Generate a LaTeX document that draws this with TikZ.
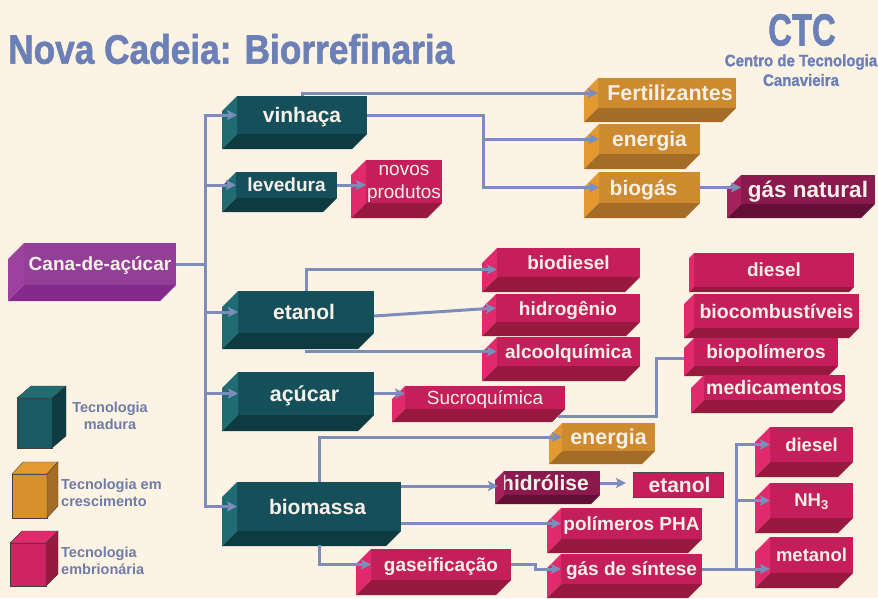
\documentclass[tikz,border=0pt]{standalone}
\usepackage{fontspec}
\setmainfont{Liberation Sans}
\newfontfamily\headfont[BoldFeatures={FakeBold=1.5}]{Liberation Sans}
\usetikzlibrary{arrows.meta}

\definecolor{paper}{HTML}{FDF3E4}
\definecolor{flowline}{HTML}{7C8DBB}
\definecolor{titleblue}{HTML}{6A80B6}
\definecolor{legendblue}{HTML}{6F7CA8}
\definecolor{labelwhite}{HTML}{F6F0E8}
\definecolor{tealface}{HTML}{15505A}
\definecolor{tealleft}{HTML}{1F6C72}
\definecolor{teallow}{HTML}{0D3B41}
\definecolor{redface}{HTML}{C41F5A}
\definecolor{redleft}{HTML}{E12A6B}
\definecolor{redlow}{HTML}{97193F}
\definecolor{orangeface}{HTML}{CE8A2E}
\definecolor{orangeleft}{HTML}{E2992F}
\definecolor{orangelow}{HTML}{A56C28}
\definecolor{plumface}{HTML}{8A1A4E}
\definecolor{plumleft}{HTML}{A4215C}
\definecolor{plumlow}{HTML}{640F38}
\definecolor{purpleface}{HTML}{943F97}
\definecolor{purpleleft}{HTML}{9C429E}
\definecolor{purplelow}{HTML}{842A8C}

\tikzset{
  fs/.style={font=\fontsize{#1}{#1}\selectfont\bfseries},
  hs/.style={font=\fontsize{#1}{#1}\headfont\bfseries, text=titleblue, inner sep=0pt},
  face/.style={inner sep=0pt, outer sep=0pt, text=labelwhite, align=center, text depth=0pt, fs=19},
  flow/.style={draw=flowline, line width=3pt, -{Stealth[length=10pt,width=10pt,inset=2pt]}},
  link/.style={draw=flowline, line width=3pt},
  legend/.style={text=legendblue, fs=14.5, align=left, inner sep=0pt}
}

% optional node style, name, x1, y1, x2, y2, depth, colour, text
\newcommand{\bevelbox}[9][]{%
  \node[face, fill=#8face, minimum width={(#5-#3-#7)*1pt}, minimum height={(#6-#4-#7)*1pt}, #1]
    (#2) at ({(#3+#7+#5)/2},{(#4+#6-#7)/2}) {#9};
  \fill[#8left] (#2.north west) -- (#3,{#4+#7}) -- (#3,#6) -- (#2.south west) -- cycle;
  \fill[#8low] (#2.south west) -- (#3,#6) -- ({#5-#7},#6) -- (#2.south east) -- cycle;
}

% x, y, width, height, depth, rise, colour
\newcommand{\legendcube}[7]{%
  \filldraw[fill=#7face!60!#7left, draw=black!75] (#1,#2) rectangle ({#1+#3},{#2+#4});
  \filldraw[fill=#7left, draw=black!75] (#1,#2) -- ({#1+#5},{#2-#6}) -- ({#1+#3+#5},{#2-#6}) -- ({#1+#3},#2) -- cycle;
  \filldraw[fill=#7low, draw=black!75] ({#1+#3},#2) -- ({#1+#3+#5},{#2-#6}) -- ({#1+#3+#5},{#2+#4-#6}) -- ({#1+#3},{#2+#4}) -- cycle;
}

\begin{document}
\begin{tikzpicture}[x=1pt,y=-1pt]
    \fill[paper] (0,0) rectangle (878,598);
    \useasboundingbox (0,0) rectangle (878,598);

    % Title
    \node[hs=41, anchor=west, xscale=.86] (title) at (8,49) {Nova Cadeia: Biorrefinaria};
    \node[hs=45, xscale=.73] (ctc) at (802,30) {CTC};
    \node[hs=16.5, xscale=.91] (centro) at (801,62) {Centro de Tecnologia};
    \node[hs=16.5, xscale=.91] (canavieira) at (801,80) {Canavieira};

    % Boxes
    \bevelbox[fs=19]{cana}{8}{243}{176}{301}{16}{purple}{Cana-de-açúcar}
    \bevelbox[fs=21]{vinhaca}{222}{96}{367}{149}{15}{teal}{vinhaça}
    \bevelbox[fs=19]{levedura}{222}{172}{337}{212}{14}{teal}{levedura}
    \bevelbox[font=\fontsize{19}{23}\selectfont, text depth=-6pt]{novos}{351}{160}{442}{218}{15}{red}{novos\\produtos}
    \bevelbox[fs=21.5]{fertil}{584}{78}{736}{122}{14}{orange}{\kern6pt Fertilizantes}
    \bevelbox[fs=21]{energiaA}{584}{124}{700}{169}{15}{orange}{energia}
    \bevelbox[fs=21]{biogas}{584}{172}{700}{218}{15}{orange}{\kern-12pt biogás}
    \bevelbox[fs=22.5]{gasnat}{727}{175}{875}{218}{14}{plum}{gás natural}

    \bevelbox[fs=21]{etanol}{222}{291}{374}{349}{16}{teal}{\kern-4pt etanol}
    \bevelbox[fs=19]{biodiesel}{482}{248}{640}{292}{15}{red}{biodiesel}
    \bevelbox[fs=19]{hidrogenio}{482}{294}{640}{336}{14}{red}{hidrogênio}
    \bevelbox[fs=19]{alcool}{482}{337}{640}{381}{15}{red}{alcoolquímica}
    \bevelbox[fs=19]{dieselA}{689}{253}{854}{292}{5}{red}{diesel}
    \bevelbox[fs=19.5]{biocomb}{684}{294}{859}{338}{10}{red}{biocombustíveis}
    \bevelbox[fs=19]{biopol}{684}{338}{838}{376}{10}{red}{biopolímeros}
    \bevelbox[fs=19.5]{medic}{691}{375}{845}{413}{13}{red}{medicamentos}
    \bevelbox[fs=21.5]{acucar}{222}{372}{374}{431}{16}{teal}{\kern-3pt açúcar}
    \bevelbox[font=\fontsize{19}{19}\selectfont]{sucro}{392}{386}{565}{422}{13}{red}{Sucroquímica}

    \bevelbox[fs=21]{biomassa}{222}{482}{401}{546}{15}{teal}{\kern-3pt biomassa}
    \bevelbox[fs=21.5]{energiaB}{549}{423}{655}{464}{13}{orange}{energia}
    \bevelbox[fs=21]{hidrolise}{495}{471}{600}{504}{9}{plum}{\kern-14pt hidrólise}
    \node[face, fs=21, fill=redface, draw=black!70, minimum width=90pt, minimum height=25pt] (etanolB) at (678,485) {\kern3pt etanol};
    \bevelbox[fs=19]{pha}{547}{508}{702}{553}{14}{red}{polímeros PHA}
    \bevelbox[fs=19]{sintese}{547}{554}{702}{598}{14}{red}{gás de síntese}
    \bevelbox[fs=19]{gaseif}{356}{549}{511}{595}{15}{red}{gaseificação}
    \bevelbox[fs=18.5]{dieselB}{755}{427}{853}{477}{15}{red}{diesel}
    \bevelbox[fs=18.5]{nh}{755}{483}{853}{533}{15}{red}{NH$_{\mathbf{3}}$}
    \bevelbox[fs=18.5]{metanol}{755}{537}{853}{588}{15}{red}{metanol}

    % Legend
    \legendcube{17}{398}{35}{50}{14}{12}{teal}
    \legendcube{12}{474}{35}{44}{11}{12}{orange}
    \legendcube{10}{543}{36}{43}{12}{12}{red}
    \node[legend, align=center] (madura) at (110,416) {Tecnologia\\[3pt]madura};
    \node[legend, anchor=west] (crescimento) at (61,493) {Tecnologia em\\[3pt]crescimento};
    \node[legend, anchor=west] (embrionaria) at (61,561) {Tecnologia\\[3pt]embrionária};

    % Trunk
    \coordinate (trunk) at (205,264);
    \draw[link] (cana.east) -- (trunk);
    \draw[flow] (trunk) |- (vinhaca.west);
    \draw[flow] (trunk) |- (levedura.west);
    \draw[flow] (trunk) |- (etanol.west);
    \draw[flow] (trunk) |- (acucar.west);
    \draw[flow] (trunk) |- (biomassa.west);

    % Vinhaca and levedura
    \coordinate (fork) at (483,139);
    \draw[flow] (vinhaca.north) |- (fertil.west);
    \draw[flow] (vinhaca.east) -| (fork) |- (biogas.west);
    \draw[flow] (fork) -- (energiaA.west);
    \draw[flow] (biogas.east) -- (gasnat.west |- biogas.east);
    \draw[flow] (levedura.east) -- (novos.west |- levedura.east);

    % Etanol
    \draw[flow] (etanol.north) |- ([yshift=-7pt]biodiesel.west);
    \draw[flow] ([yshift=-4pt]etanol.east) -- (hidrogenio.west);
    \draw[flow] ([yshift=-17pt]etanol.south) |- (alcool.west);

    % Acucar
    \coordinate (jog) at (656,358);
    \draw[flow] (acucar.east) -- (sucro.west |- acucar.east);
    \draw[link] ([shift={(-7pt,-7pt)}]sucro.south east) -| (jog) -- ([xshift=-10pt]biopol.west |- jog);

    % Biomassa
    \coordinate (split) at (736,569);
    \draw[flow] (biomassa.north) |- (energiaB.west);
    \draw[flow] ([yshift=-3pt]biomassa.east |- hidrolise.west) -- ([shift={(-6pt,-3pt)}]hidrolise.west);
    \draw[flow] (hidrolise.east) -- ([xshift=-7pt]etanolB.west |- hidrolise.east);
    \draw[flow] (biomassa.east |- pha.west) -- (pha.west);
    \draw[flow] ([yshift=-14pt]biomassa.south) |- (gaseif.west);
    \draw[flow] (gaseif.east) -- ++(24,0) |- (sintese.west);
    \draw[flow] (sintese.east) -- (sintese.east -| metanol.west);
    \draw[flow] (split) |- (dieselB.west);
    \draw[flow] (split) |- (nh.west);
\end{tikzpicture}
\end{document}
